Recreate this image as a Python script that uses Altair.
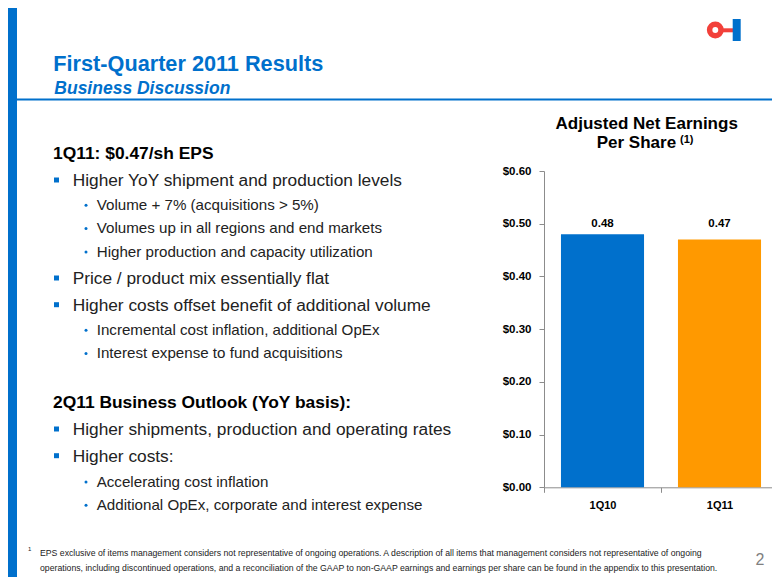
import altair as alt
import pandas as pd

# ---------------- data ----------------
quarters = ["1Q10", "1Q11"]
eps = [0.48, 0.47]
bar_colors = ["#0070CC", "#FF9900"]
y_ticks = [0.0, 0.1, 0.2, 0.3, 0.4, 0.5, 0.6]

slide_title = "First-Quarter 2011 Results"
slide_subtitle = "Business Discussion"
chart_title_1 = "Adjusted Net Earnings"
chart_title_2 = "Per Share"
chart_title_note = "(1)"

body_lines = [
    ("1Q11: $0.47/sh EPS", "head"),
    ("Higher YoY shipment and production levels", "main"),
    ("Volume + 7% (acquisitions > 5%)", "sub"),
    ("Volumes up in all regions and end markets", "sub"),
    ("Higher production and capacity utilization", "sub"),
    ("Price / product mix essentially flat", "main"),
    ("Higher costs offset benefit of additional volume", "main"),
    ("Incremental cost inflation, additional OpEx", "sub"),
    ("Interest expense to fund acquisitions", "sub"),
    ("2Q11 Business Outlook (YoY basis):", "head"),
    ("Higher shipments, production and operating rates", "main"),
    ("Higher costs:", "main"),
    ("Accelerating cost inflation", "sub"),
    ("Additional OpEx, corporate and interest expense", "sub"),
]
footnote_lines = [
    "EPS exclusive of items management considers not representative of ongoing operations. A description of all items that management considers not representative of ongoing",
    "operations, including discontinued operations, and a reconciliation of the GAAP to non-GAAP earnings and earnings per share can be found in the appendix to this presentation.",
]
page_number = "2"

# ---------------- layout / style ----------------
W, H = 764, 569
FONT = "Liberation Sans"
BLUE = "#0070CC"
TXT = "#222222"
baselines = [151.3, 178, 202, 225.3, 248.7, 276, 302.7, 327, 350.3,
             400.3, 427, 453.7, 478.7, 502]

X0, X1 = 536, 770      # x band range
Y0, Y1 = 479.3, 163.0  # y range (0 -> 0.6)


def one():
    return pd.DataFrame({"t": [""]})


def txt(s, x, y, size, weight="normal", color=TXT, style="normal", align="left"):
    return alt.Chart(pd.DataFrame({"t": [s]})).mark_text(
        align=align, baseline="alphabetic", fontSize=size, fontWeight=weight,
        fontStyle=style, color=color, font=FONT
    ).encode(x=alt.value(x), y=alt.value(y), text="t:N")


def rect(x, x2, y, y2, color):
    return alt.Chart(one()).mark_rect(color=color).encode(
        x=alt.value(x), x2=alt.value(x2), y=alt.value(y), y2=alt.value(y2))


layers = []

# decorations
layers.append(rect(0, 9, 0, H, BLUE))
layers.append(alt.Chart(one()).mark_rule(color=BLUE, strokeWidth=2).encode(
    x=alt.value(9), x2=alt.value(W), y=alt.value(91.5)))

# logo
layers.append(alt.Chart(one()).mark_point(
    shape="circle", filled=False, stroke="#F2403A", strokeWidth=5.5, size=130, opacity=1
).encode(x=alt.value(707.3), y=alt.value(22)))
layers.append(rect(715, 725, 20.3, 24.3, "#F2403A"))
layers.append(rect(724.7, 732.7, 11, 33, BLUE))

# slide titles
layers.append(txt(slide_title, 45.3, 62.7, 21.7, "bold", BLUE))
layers.append(txt(slide_subtitle, 46.3, 86, 17.5, "bold", BLUE, "italic"))

# body text
for (s, kind), yb in zip(body_lines, baselines):
    if kind == "head":
        layers.append(txt(s, 45, yb, 17.4, "bold", "#000000"))
    elif kind == "main":
        layers.append(alt.Chart(one()).mark_square(color=BLUE, size=25, opacity=1).encode(
            x=alt.value(48.5), y=alt.value(yb - 6)))
        layers.append(txt(s, 64.7, yb, 17.3))
    else:
        layers.append(alt.Chart(one()).mark_circle(color=BLUE, size=9, opacity=1).encode(
            x=alt.value(78), y=alt.value(yb - 4.7)))
        layers.append(txt(s, 88.7, yb, 15.15))

# footnote & page number
layers.append(txt("1", 20, 543, 6))
layers.append(txt(footnote_lines[0], 32, 548, 8.7))
layers.append(txt(footnote_lines[1], 32, 563, 8.7))
layers.append(txt(page_number, 752, 557, 16, color="#808080", align="center"))

# chart title
layers.append(txt(chart_title_1, 638.7, 121.3, 17, "bold", "#000000", align="center"))
layers.append(txt(chart_title_2, 588.7, 140.3, 17, "bold", "#000000"))
layers.append(txt(chart_title_note, 672, 135, 11, "bold", "#000000"))

# ---------------- bar chart ----------------
bars_df = pd.DataFrame({"q": quarters, "eps": eps})
xs = alt.X("q:N", sort=quarters, title=None,
           scale=alt.Scale(range=[X0, X1], paddingInner=0, paddingOuter=0),
           axis=alt.Axis(offset=-(H - Y0), tickBand="extent", labelAngle=0,
                         labelFont=FONT, labelFontSize=11, labelFontWeight="bold",
                         labelColor="#000000", labelPadding=7, tickSize=5,
                         domainColor="#8C8C8C", tickColor="#8C8C8C", grid=False))
ys = alt.Y("eps:Q", title=None,
           scale=alt.Scale(domain=[0, 0.6], range=[Y0, Y1], nice=False, zero=True),
           axis=alt.Axis(offset=-X0, values=y_ticks, format="$.2f",
                         labelFont=FONT, labelFontSize=11.5, labelFontWeight="bold",
                         labelColor="#000000", labelPadding=8, tickSize=5,
                         domainColor="#8C8C8C", tickColor="#8C8C8C", grid=False))

bars = alt.Chart(bars_df).mark_bar(width=alt.RelativeBandSize(0.71)).encode(
    x=xs, y=ys,
    color=alt.Color("q:N", scale=alt.Scale(domain=quarters, range=bar_colors), legend=None),
)
labels = alt.Chart(bars_df).mark_text(
    baseline="middle", font=FONT, fontSize=11.5, fontWeight="bold", color="#000000"
).encode(x=alt.X("q:N", sort=quarters), y=alt.value(216),
         text=alt.Text("eps:Q", format=".2f"))

layers.append(bars)
layers.append(labels)

chart = alt.layer(*layers).properties(
    width=W, height=H, padding=0, autosize=alt.AutoSizeParams(type="none"),
    background="white"
).configure_view(stroke=None)

chart.save("out.html", embed_options={"renderer": "svg", "actions": False})
